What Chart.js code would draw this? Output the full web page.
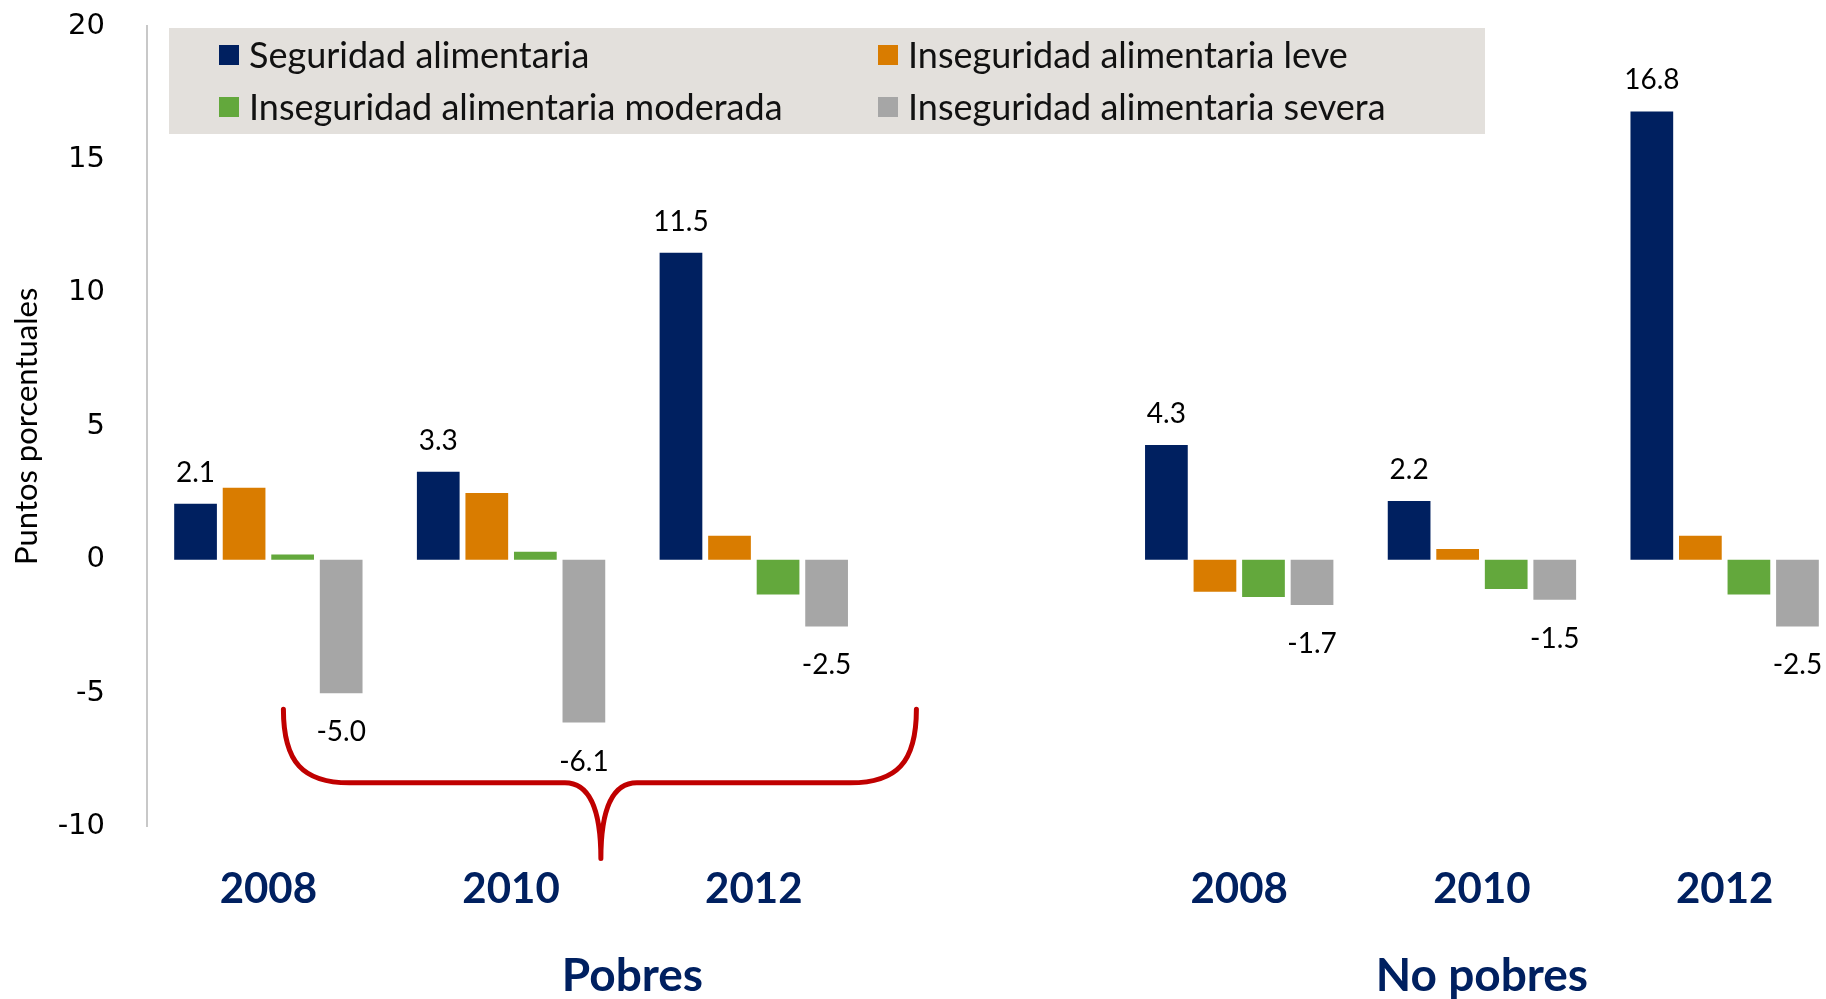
<!DOCTYPE html>
<html lang="es">
<head>
<meta charset="utf-8">
<title>Seguridad alimentaria, Pobres y No pobres</title>
<script src="https://cdn.jsdelivr.net/npm/chart.js@4.4.1/dist/chart.umd.min.js"></script>
<style>
  html, body { margin: 0; padding: 0; background: #fff; overflow: hidden; }
  #wrap { position: relative; width: 1850px; height: 999px; }
</style>
</head>
<body>
<div id="wrap"><canvas id="chart" width="1850" height="999"></canvas></div>
<script>
// Data (puntos porcentuales)
const years = ['2008', '2010', '2012', '', '2008', '2010', '2012'];
const groupNames = ['Pobres', 'No pobres'];
const seriesNames = [
    'Seguridad alimentaria',
    'Inseguridad alimentaria leve',
    'Inseguridad alimentaria moderada',
    'Inseguridad alimentaria severa'
];
const seguridad = [2.1, 3.3, 11.5, null, 4.3, 2.2, 16.8];
const leve      = [2.7, 2.5, 0.9, null, -1.2, 0.4, 0.9];
const moderada  = [0.2, 0.3, -1.3, null, -1.4, -1.1, -1.3];
const severa    = [-5.0, -6.1, -2.5, null, -1.7, -1.5, -2.5];
const yTicks = [-10, -5, 0, 5, 10, 15, 20];

const colors = ['#002060', '#d97c00', '#63a83c', '#a6a6a6'];
const NAVY = '#002060';
const FONT = 'Lato, "Open Sans", sans-serif';

const seriesValues = [seguridad, leve, moderada, severa];

// value labels: only first series (on top) and last series (below)
const valueLabels = {
    id: 'valueLabels',
    afterDatasetsDraw(chart) {
        const ctx = chart.ctx;
        ctx.save();
        ctx.font = '28px ' + FONT;
        ctx.fillStyle = '#000';
        ctx.textAlign = 'center';
        ctx.textBaseline = 'middle';
        [0, 3].forEach(di => {
            const meta = chart.getDatasetMeta(di);
            meta.data.forEach((bar, i) => {
                const v = seriesValues[di][i];
                if (v === null) return;
                const y = v >= 0 ? bar.y - 31 : bar.y + 39;
                ctx.fillText(v.toFixed(1), bar.x, y);
            });
        });
        ctx.restore();
    }
};

// legend box, 2 x 2
const boxLegend = {
    id: 'boxLegend',
    afterDraw(chart) {
        const ctx = chart.ctx;
        const left = chart.chartArea.left + 22;
        const top = 28;
        ctx.save();
        ctx.fillStyle = '#e3e0dc';
        ctx.fillRect(left, top, 1316, 106);
        ctx.font = '36px ' + FONT;
        ctx.textBaseline = 'middle';
        const cols = [left + 50, left + 709];
        const rows = [top + 27, top + 79];
        seriesNames.forEach((name, i) => {
            const x = cols[i % 2];
            const y = rows[Math.floor(i / 2)];
            ctx.fillStyle = colors[i];
            ctx.fillRect(x, y - 10, 20, 20);
            ctx.fillStyle = '#111';
            ctx.fillText(name, x + 30, y + 1);
        });
        ctx.restore();
    }
};

// red brace under the Pobres group + group names
const extras = {
    id: 'extras',
    afterDraw(chart) {
        const ctx = chart.ctx;
        const xs = chart.scales.x;
        const ys = chart.scales.y;
        const step = xs.getPixelForValue(1) - xs.getPixelForValue(0);
        const L = xs.getPixelForValue(0) + 0.062 * step;
        const R = xs.getPixelForValue(2) + 0.67 * step;
        const T = xs.getPixelForValue(1) + 0.37 * step;
        const top = ys.getPixelForValue(-5.6);
        const mid = ys.getPixelForValue(-8.36);
        const tipY = ys.getPixelForValue(-11.2);

        ctx.save();
        ctx.strokeStyle = '#c00000';
        ctx.lineWidth = 5;
        ctx.lineCap = 'round';
        ctx.lineJoin = 'round';
        ctx.beginPath();
        ctx.moveTo(L, top);
        ctx.bezierCurveTo(L, mid - 20, L + 20, mid, L + 66, mid);
        ctx.lineTo(T - 36, mid);
        ctx.quadraticCurveTo(T, mid, T, tipY);
        ctx.quadraticCurveTo(T, mid, T + 36, mid);
        ctx.lineTo(R - 66, mid);
        ctx.bezierCurveTo(R - 20, mid, R, mid - 20, R, top);
        ctx.stroke();

        ctx.fillStyle = NAVY;
        ctx.font = 'bold 46px ' + FONT;
        ctx.textAlign = 'center';
        ctx.textBaseline = 'middle';
        const gx1 = (xs.getPixelForValue(1) + xs.getPixelForValue(2)) / 2;
        const gx2 = xs.getPixelForValue(5);
        ctx.fillText(groupNames[0], gx1, 976);
        ctx.fillText(groupNames[1], gx2, 976);
        ctx.restore();
    }
};

const ctx = document.getElementById('chart').getContext('2d');
new Chart(ctx, {
    type: 'bar',
    data: {
        labels: years,
        datasets: seriesNames.map((name, i) => ({
            label: name,
            data: seriesValues[i],
            backgroundColor: colors[i],
            borderWidth: 0,
            categoryPercentage: 0.8,
            barPercentage: 0.88
        }))
    },
    options: {
        responsive: false,
        animation: false,
        layout: { padding: { top: 26, bottom: 46, left: 0, right: 4 } },
        plugins: {
            legend: { display: false },
            tooltip: { enabled: false }
        },
        scales: {
            x: {
                grid: { display: false, drawTicks: false },
                border: { display: false },
                ticks: {
                    color: NAVY,
                    font: { family: FONT, size: 42, weight: 'bold' },
                    padding: 38,
                    autoSkip: false,
                    maxRotation: 0
                }
            },
            y: {
                min: -10,
                max: 20,
                afterBuildTicks: scale => { scale.ticks = yTicks.map(v => ({ value: v })); },
                afterFit: scale => {
                    scale.width = 147;
                    scale.paddingTop = 0;
                    scale.paddingBottom = 0;
                },
                grid: { display: false, drawTicks: false },
                border: { display: true, color: '#c8c8c8', width: 2 },
                ticks: {
                    color: '#000',
                    font: { family: '"DejaVu Sans", sans-serif', size: 29 },
                    padding: 42
                },
                title: {
                    display: true,
                    text: 'Puntos porcentuales',
                    color: '#000',
                    font: { family: FONT, size: 31 },
                    padding: { top: 8, bottom: 0 }
                }
            }
        }
    },
    plugins: [valueLabels, boxLegend, extras]
});
</script>
</body>
</html>
